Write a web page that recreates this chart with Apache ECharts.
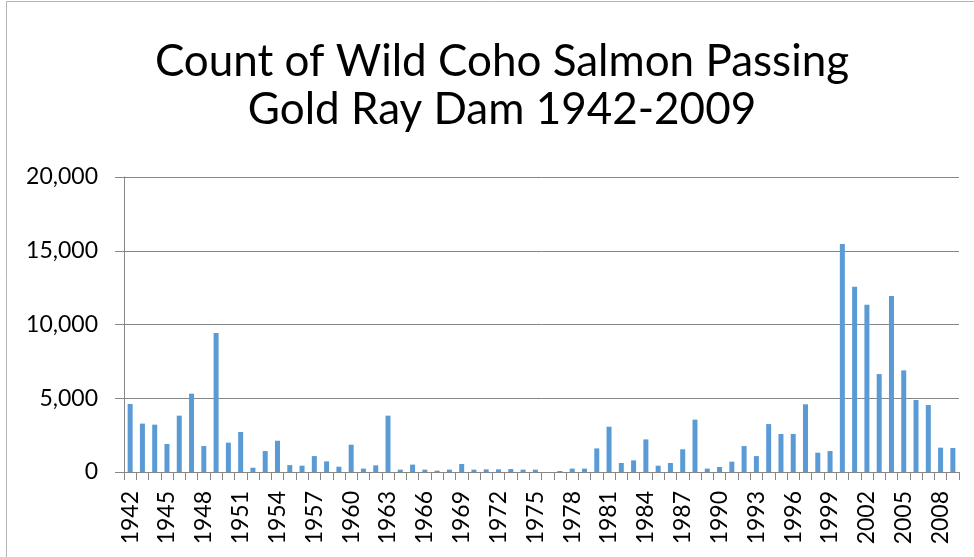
<!DOCTYPE html>
<html>
<head>
<meta charset="utf-8">
<script src="https://cdn.jsdelivr.net/npm/echarts@6/dist/echarts.min.js"></script>
<style>
  html, body { margin: 0; padding: 0; background: #fff; }
  #main { width: 974px; height: 557px; }
</style>
</head>
<body>
<div id="main"></div>
<script>
var years = [];
for (var y = 1942; y <= 2009; y++) years.push(String(y));

var cohoCount = [
    4610, 3280, 3210, 1900, 3820, 5310, 1760, 9420, 1990, 2710,
    290, 1420, 2120, 470, 430, 1080, 720, 360, 1850, 230,
    450, 3820, 160, 500, 160, 90, 160, 540, 160, 180,
    180, 200, 160, 160, 0, 70, 230, 230, 1600, 3070,
    610, 790, 2210, 430, 610, 1540, 3550, 230, 340, 700,
    1760, 1080, 3250, 2580, 2580, 4590, 1310, 1420, 15460, 12560,
    11340, 6640, 11930, 6890, 4880, 4540, 1650, 1630
];

var yTicks = [0, 5000, 10000, 15000, 20000];

var FONT = 'Lato, "Open Sans", sans-serif';

chart01();

function chart01() {
    var myChart = echarts.init(document.getElementById('main'));
    var option = {
        animation: false,
        title: {
            text: 'Count of Wild Coho Salmon Passing\nGold Ray Dam 1942-2009',
            left: 497,
            textAlign: 'center',
            top: 33,
            textStyle: {
                fontFamily: FONT,
                fontSize: 44,
                fontWeight: 'normal',
                lineHeight: 48,
                color: '#000'
            }
        },
        graphic: [{
            type: 'rect',
            shape: { x: 6.5, y: 1.5, width: 990, height: 570 },
            style: { fill: 'none', stroke: '#b4b4b4', lineWidth: 1 },
            silent: true
        }],
        grid: { left: 124, right: 15, top: 177, bottom: 85 },
        xAxis: {
            type: 'category',
            data: years,
            axisLine: { lineStyle: { color: '#868686', width: 1 } },
            axisTick: { show: true, length: 8, interval: 0, lineStyle: { color: '#868686' } },
            axisLabel: {
                interval: 2,
                rotate: 90,
                margin: 19,
                fontSize: 23,
                fontFamily: FONT,
                color: '#000'
            }
        },
        yAxis: {
            type: 'value',
            min: yTicks[0],
            max: yTicks[yTicks.length - 1],
            interval: 5000,
            axisLine: { show: true, lineStyle: { color: '#868686', width: 1 } },
            axisTick: { show: true, length: 9, lineStyle: { color: '#868686' } },
            splitLine: { lineStyle: { color: '#868686', width: 1 } },
            axisLabel: {
                margin: 26,
                fontSize: 23,
                fontFamily: FONT,
                color: '#000',
                formatter: function (v) { return v.toLocaleString('en-US'); }
            }
        },
        series: [{
            name: 'Wild Coho',
            type: 'bar',
            data: cohoCount,
            barWidth: 5,
            itemStyle: { color: '#5B9BD5' }
        }]
    };
    myChart.setOption(option);
}
</script>
</body>
</html>
